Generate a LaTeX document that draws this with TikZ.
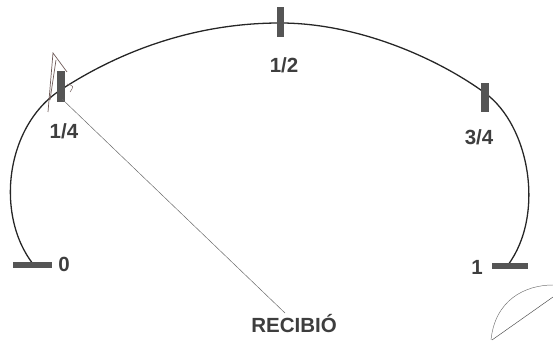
\documentclass[tikz,border=0pt]{standalone}
\usepackage{fontspec}
\setmainfont{Liberation Sans}
\definecolor{tinta}{HTML}{3E3E3E}
\definecolor{marca}{HTML}{555555}
\definecolor{lapiz}{HTML}{6E5A58}

\tikzset{
  etiqueta/.style={text=tinta, font=\fontsize{17.5}{20}\selectfont\bfseries, inner sep=0pt},
  barra/.style={fill=marca},
}

\begin{document}
\begin{tikzpicture}[x=0.03cm, y=-0.03cm]
    \useasboundingbox (0,0) rectangle (553,343);

    % el arco
    \draw[line width=1.1pt, black!85] (33,264)
      .. controls (-5,215) and (5,125) .. (62,89)
      .. controls (130,45) and (205,23) .. (280,23)
      .. controls (360,23) and (440,60) .. (485,93)
      .. controls (530,126) and (545,215) .. (508,265);

    % las marcas
    \fill[barra] (13,262) rectangle (52,268);
    \fill[barra] (57,71) rectangle (65,102);
    \fill[barra] (277,7) rectangle (284,37);
    \fill[barra] (481,83) rectangle (489,112);
    \fill[barra] (492,263) rectangle (528,269);
    \coordinate (q) at (62,99);
    \coordinate (fin) at (285,313);

    % los textos
    \node[etiqueta] (cero) at (64,264) {0};
    \node[etiqueta] (cuarto) at (64,131) {1/4};
    \node[etiqueta] (medio) at (284,65) {1/2};
    \node[etiqueta] (tres) at (479,137) {3/4};
    \node[etiqueta] (uno) at (477,267) {1};
    \node[etiqueta, anchor=south] (recibio) at (294,333) {RECIBIÓ};

    % la raya a mano
    \draw[thin, black!60] (q) -- (fin);

    % los trazos a lapiz
    \draw[lapiz, semithick] (48,112) -- (53,53) -- (67,72) (50,100) -- (56,60);
    \draw[lapiz, thin] (67,84) .. controls (74,86) .. (70,92);
    \draw[black!55, thin] (491,340) .. controls (495,300) and (525,285) .. (553,285);
    \draw[black!70, thin] (492,340) -- (553,297);

\end{tikzpicture}
\end{document}
